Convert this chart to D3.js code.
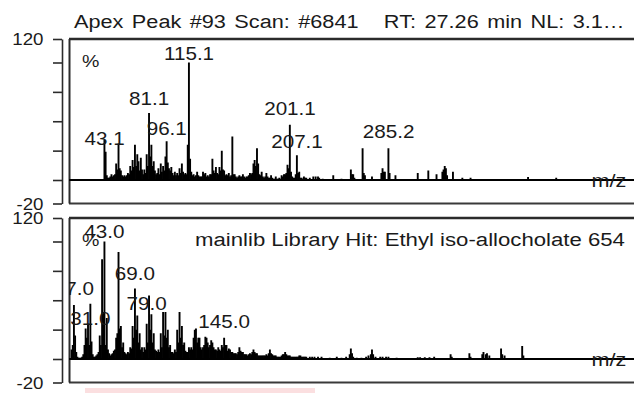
<!DOCTYPE html>
<html>
<head>
<meta charset="utf-8">
<script src="https://cdn.jsdelivr.net/npm/d3@7"></script>
<style>
  html, body { margin: 0; padding: 0; background: #fff; overflow: hidden; }
  text { white-space: pre; }
</style>
</head>
<body>
<svg id="chart" width="634" height="393"></svg>
<script>
// ---- measured scan: [m/z, relative intensity %] ----
const scanSpectrum = [
  [43,34],[44,24],[45,4],[46,2],[47,2],[48,3],[49,5],[50,3],[51,4],[52,5],[53,14],[54,9],
  [55,31],[56,10],[57,8],[58,4],[59,3],[60,4],[61,3],[62,4],[63,6],[64,5],[65,12],[66,8],
  [67,17],[68,11],[69,30],[70,12],[71,22],[72,16],[73,8],[74,19],[75,9],[76,5],[77,9],[78,6],
  [79,22],[80,12],[81,57],[82,20],[83,30],[84,12],[85,16],[86,8],[87,5],[88,6],[89,10],[90,5],
  [91,14],[92,7],[93,12],[94,8],[95,20],[96,33],[97,15],[98,10],[99,8],[100,11],[101,6],[102,4],
  [103,7],[104,4],[105,6],[106,4],[107,10],[108,6],[109,14],[110,7],[111,5],[112,6],[113,5],
  [114,30],[115,100],[116,18],[117,7],[118,4],[119,5],[120,3],[121,4],[122,7],[123,4],[124,3],
  [125,3],[126,3],[127,7],[128,5],[129,6],[130,3],[131,4],[132,3],[133,5],[134,5],[135,18],
  [136,8],[137,6],[138,11],[139,6],[140,5],[141,11],[142,8],[143,25],[144,9],[145,8],[146,4],
  [147,5],[148,4],[149,6],[150,3],[151,4],[152,37],[153,5],[154,5],[155,3],[156,2],[157,3],
  [158,4],[159,3],[160,3],[161,5],[162,3],[163,2],[164,3],[165,3],[166,4],[167,6],[168,5],
  [169,6],[170,14],[171,17],[172,12],[173,27],[174,14],[175,5],[176,4],[177,7],[178,3],[179,2],
  [180,3],[181,6],[182,3],[183,2],[184,2],[185,4],[186,2],[187,1],[188,1],[189,3],[190,1],
  [191,1],[192,2],[193,1],[194,4],[195,3],[196,5],[197,5],[198,6],[199,13],[200,10],[201,47],
  [202,7],[203,3],[204,2],[205,2],[206,5],[207,21],[208,6],[209,7],[210,2],[211,2],[212,1],
  [213,3],[214,2],[215,2],[218,2],[221,3],[223,3],[225,3],[226,2],[229,1],[238,4],[245,1],
  [253,9],[254,5],[255,5],[256,2],[263,27],[264,6],[265,4],[271,3],[279,6],[280,10],[281,7],
  [282,7],[285,27],[286,6],[291,4],[310,6],[319,8],[326,5],[331,7],[332,9],[333,12],[334,10],
  [335,4],[340,7],[348,2],[355,2],[404,2.5],[428,2]
];
const scanLabelMz    = [43.1, 81.1, 96.1, 115.1, 201.1, 207.1, 285.2];
const scanLabelLevel = [29.8, 63.8, 38.3, 102.1, 55.3, 27.2, 35.7];

// ---- library reference spectrum: [m/z, relative intensity %] ----
const librarySpectrum = [
  [15,8],[16,12],[17,46],[18,20],[19,6],[20,2],[21,1],[22,1],[23,1],[24,2],[25,4],[26,12],
  [27,26],[28,18],[29,30],[30,12],[31,47],[32,15],[33,4],[34,2],[35,2],[36,3],[37,4],[38,6],
  [39,20],[40,12],[41,85],[42,40],[43,100],[44,12],[45,35],[46,8],[47,5],[48,3],[49,4],[50,5],
  [51,7],[52,8],[53,18],[54,22],[55,91],[56,26],[57,28],[58,10],[59,14],[60,6],[61,5],[62,4],
  [63,6],[64,5],[65,10],[66,9],[67,28],[68,18],[69,60],[70,25],[71,37],[72,14],[73,22],[74,8],
  [75,10],[76,6],[77,10],[78,8],[79,30],[80,14],[81,54],[82,25],[83,38],[84,14],[85,22],[86,8],
  [87,7],[88,6],[89,8],[90,6],[91,22],[92,10],[93,40],[94,20],[95,40],[96,18],[97,25],[98,10],
  [99,12],[100,6],[101,6],[102,5],[103,8],[104,6],[105,25],[106,14],[107,40],[108,18],[109,28],
  [110,12],[111,14],[112,7],[113,6],[114,6],[115,10],[116,8],[117,10],[118,8],[119,18],[120,25],
  [121,26],[122,14],[123,18],[124,18],[125,10],[126,8],[127,10],[128,12],[129,19],[130,18],
  [131,14],[132,10],[133,12],[134,16],[135,14],[136,10],[137,8],[138,8],[139,7],[140,10],
  [141,8],[142,7],[143,12],[144,10],[145,18],[146,12],[147,12],[148,7],[149,9],[150,8],[151,6],
  [152,6],[153,5],[154,5],[155,5],[156,4],[157,6],[158,10],[159,7],[160,6],[161,6],[162,4],
  [163,4],[164,4],[165,3],[166,4],[167,5],[168,4],[169,6],[170,8],[171,6],[172,5],[173,5],
  [174,3],[175,3],[176,3],[177,3],[178,3],[179,3],[180,3],[181,4],[182,3],[183,5],[184,8],
  [185,5],[186,4],[187,3],[188,3],[189,3],[190,2],[191,2],[192,2],[193,2],[194,3],[195,4],
  [196,4],[197,6],[198,4],[199,3],[200,3],[201,3],[202,2],[203,2],[204,2],[205,2],[206,2],
  [207,2],[208,2],[209,3],[210,3],[211,2],[212,2],[213,2],[214,2],[215,2],[218,2],[220,2],
  [222,2],[225,2],[228,2],[235,1],[241,2],[245,1],[249,2],[252,4],[253,9],[254,5],[255,2],
  [258,1],[262,1],[266,2],[268,3],[270,4],[271,8],[272,4],[274,2],[278,2],[280,2],[283,2],
  [285,2],[292,1],[310,1.5],[312,1.5],[316,1.5],[320,1.5],[324,2],[338,4],[339,2],[354,5],
  [355,2],[365,4],[366,6],[368,4],[369,5],[371,3],[381,9],[382,4],[384,3],[399,11],[400,3]
];
const libraryLabelMz    = [17.0, 31.0, 43.0, 69.0, 79.0, 145.0];
const libraryLabelLevel = [54.5, 28.9, 103, 67.2, 41.7, 26.4];

// ---- axes ----
const mzRange   = [12.8, 499.4];
const pctRange  = [-20, 120];
const pctTicks  = [-20, 0, 25, 50, 75, 100, 120];
const pctTickLabels = ["-20", "120"];

const scanTitle    = "Apex Peak #93 Scan: #6841   RT: 27.26 min NL: 3.1\u2026";
const libraryTitle = "mainlib Library Hit: Ethyl iso-allocholate 654";

const FONT = "'Liberation Sans', Arial, Helvetica, sans-serif";
const INK = "#1a1a1a";
const svg = d3.select("#chart");

const x = d3.scaleLinear().domain(mzRange).range([69, 640]);

// writes a horizontally widened text; fitWidth stretches it to a given span
function addText(g, str, px, py, opts = {}) {
  const size = opts.size || 17;
  const anchor = opts.anchor || "middle";
  const t = g.append("text")
    .attr("font-family", FONT)
    .attr("font-size", size)
    .attr("fill", INK)
    .attr("text-anchor", anchor)
    .attr("word-spacing", opts.wordSpacing || 0)
    .text(str);
  let sx = opts.sx || 1.2;
  if (opts.fitWidth) sx = opts.fitWidth / t.node().getComputedTextLength();
  t.attr("transform", `translate(${px},${py}) scale(${sx},1)`);
  return t;
}

const panels = [
  { spectrum: scanSpectrum, labelMz: scanLabelMz, labelLevel: scanLabelLevel,
    range: [203.5, 39], id: "scan" },
  { spectrum: librarySpectrum, labelMz: libraryLabelMz, labelLevel: libraryLabelLevel,
    range: [382.5, 218], id: "lib" }
];

panels.forEach(p => {
  const y = d3.scaleLinear().domain(pctRange).range(p.range);
  const top = y(pctRange[1]), bottom = y(pctRange[0]);
  const g = svg.append("g");

  g.append("clipPath").attr("id", "clip-" + p.id)
    .append("rect").attr("x", x.range()[0]).attr("y", top)
    .attr("width", x.range()[1] - x.range()[0]).attr("height", bottom - top);

  // frame
  g.append("line").attr("x1", 69).attr("x2", 640).attr("y1", top).attr("y2", top)
    .attr("stroke", "#2b2b2b").attr("stroke-width", 2.4);
  g.append("line").attr("x1", 69).attr("x2", 640).attr("y1", bottom).attr("y2", bottom)
    .attr("stroke", "#3a3a3a").attr("stroke-width", 1.8);
  g.append("line").attr("x1", 69.5).attr("x2", 69.5).attr("y1", top).attr("y2", bottom)
    .attr("stroke", "#2b2b2b").attr("stroke-width", 2);

  // intensity axis (ticks only; end values written separately)
  const axis = d3.axisLeft(y).tickValues(pctTicks).tickSize(9).tickSizeOuter(0).tickFormat("");
  const ag = g.append("g").attr("transform", "translate(62,0)").call(axis);
  ag.selectAll("path,line").attr("stroke", "#2b2b2b").attr("stroke-width", 1.6);
  pctTickLabels.forEach(s => {
    addText(g, s, 43.5, y(+s) + 6, { anchor: "end", size: 17, sx: 1.1 });
  });

  const plot = g.append("g").attr("clip-path", `url(#clip-${p.id})`);

  // zero line
  plot.append("line").attr("x1", 69).attr("x2", 640).attr("y1", y(0)).attr("y2", y(0))
    .attr("stroke", "#000").attr("stroke-width", 2);

  // spectrum sticks
  plot.selectAll("line.peak").data(p.spectrum).join("line")
    .attr("class", "peak")
    .attr("x1", d => x(d[0])).attr("x2", d => x(d[0]))
    .attr("y1", y(0)).attr("y2", d => y(d[1]))
    .attr("stroke", "#000").attr("stroke-width", 1.9);

  // peak annotations
  p.labelMz.forEach((m, i) => {
    addText(plot, m.toFixed(1), x(m), y(p.labelLevel[i]), { size: 17.5, sx: 1.18 });
  });

  // unit markers
  addText(g, "%", 82, top + 28, { anchor: "start", size: 17, sx: 1.15 });
  addText(g, "m/z", 591.5, y(0) + 7, { anchor: "start", size: 18, sx: 1.2 });
});

// headers
addText(svg, scanTitle, 74, 28, { anchor: "start", size: 18, wordSpacing: 2, fitWidth: 551 });
addText(svg, libraryTitle, 195, 246, { anchor: "start", size: 18, fitWidth: 430 });

// selection strip under the lower plot
svg.append("rect").attr("x", 85).attr("y", 388).attr("width", 230).attr("height", 6)
  .attr("fill", "#fbdfe0");
</script>
</body>
</html>
